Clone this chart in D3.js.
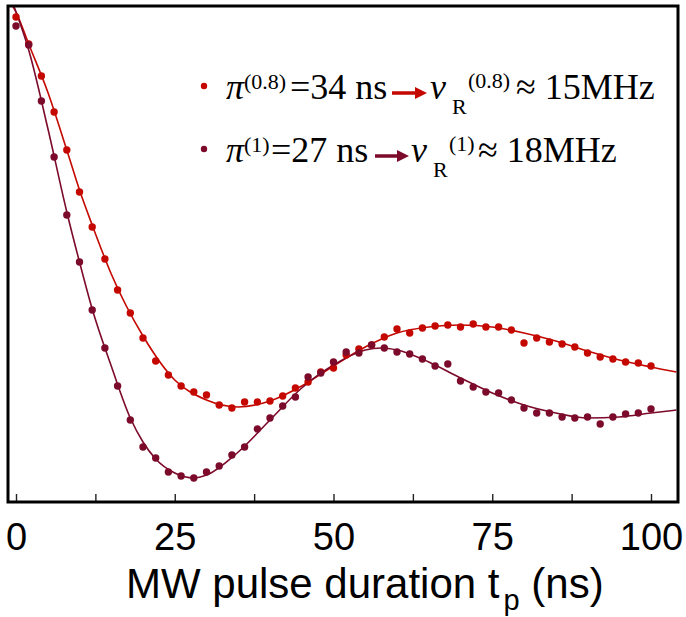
<!DOCTYPE html>
<html>
<head>
<meta charset="utf-8">
<script src="https://cdn.jsdelivr.net/npm/d3@7"></script>
<style>
  body { margin: 0; background: #fff; }
  svg { display: block; }
</style>
</head>
<body>
<svg width="686" height="617"></svg>
<script>
var pulseNs = [0,2,4,6,8,10,12,14,16,18,20,22,24,26,28,30,32,34,36,38,40,42,44,46,48,50,
               52,54,56,58,60,62,64,66,68,70,72,74,76,78,80,82,84,86,88,90,92,94,96,98,100]
var signal08 = [485,458,426,390,352,310,275,243,212,189,164,141,127,116,110,107,97,94,100,100,101,106,114,120,130,134,
                147,153,157,165,173,169,174,176,177,175,178,175,175,172,159,164,160,158,155,149,145,143,140,139,136]
var signal1 = [476,457,401,345,287,240,192,154,116,82,55,44,30,26,24,30,36,47,55,73,84,96,105,125,129,140,
               150,149,157,154,150,148,143,136,138,121,115,110,109,102,94,89,89,85,84,85,78,85,88,89,93]

// fitted curves, sampled off the figure
var fitNs08 = [-1.5,0,2,5,8,10,12,15,20,25,30,35,40,45,50,55,60,65,70,75,80,85,90,95,100,104]
var fit08 = [505,490,458,410,352,312,277,228,166,122,102,95,101,116,136,155,169,175,177,175,169,161,151,142,135,130]
var fitNs1 = [-1.5,0,2,5,8,10,12,15,18,20,22,25,28,30,35,40,45,50,55,57.5,60,65,70,75,80,85,90,95,100,104]
var fit1 = [515,490,452,374,290,240,193,136,84,60,43,29,24,27,50,82,114,137,152,154,152,140,124,109,97,89,84,85,89,92]

var tickNs = [0,12.5,25,37.5,50,62.5,75,87.5,100]

var red = "#c40800", wine = "#7c0a2b"

var svg = d3.select("svg")
var xScale = d3.scaleLinear().domain([0,100]).range([16,651])
var yScale = d3.scaleLinear().domain([0,496]).range([502,6])

svg.append("clipPath").attr("id","plotClip")
  .append("rect").attr("x",8).attr("y",6).attr("width",670).attr("height",496)

var line = d3.line()
  .x(d => xScale(d[0]))
  .y(d => yScale(d[1]))
  .curve(d3.curveMonotoneX)

var plot = svg.append("g").attr("clip-path","url(#plotClip)")

plot.append("path")
  .datum(d3.zip(fitNs08, fit08))
  .attr("d", line)
  .attr("fill","none").attr("stroke",red).attr("stroke-width",1.6)
plot.append("path")
  .datum(d3.zip(fitNs1, fit1))
  .attr("d", line)
  .attr("fill","none").attr("stroke",wine).attr("stroke-width",1.6)

plot.selectAll("circle.s08")
  .data(d3.zip(pulseNs, signal08))
  .enter().append("circle")
  .attr("class","s08")
  .attr("r",3.7)
  .attr("cx", d => xScale(d[0]))
  .attr("cy", d => yScale(d[1]))
  .attr("fill", red)
plot.selectAll("circle.s1")
  .data(d3.zip(pulseNs, signal1))
  .enter().append("circle")
  .attr("class","s1")
  .attr("r",3.7)
  .attr("cx", d => xScale(d[0]))
  .attr("cy", d => yScale(d[1]))
  .attr("fill", wine)

// x axis: inward ticks, labels every 25 ns
var xAxis = d3.axisBottom(xScale)
  .tickValues(tickNs)
  .tickSizeInner(-8).tickSizeOuter(0)
  .tickPadding(21)
  .tickFormat(d => d % 25 === 0 ? d : "")
var gx = svg.append("g").attr("transform","translate(0,502)").call(xAxis)
gx.select(".domain").remove()
gx.selectAll("line").attr("stroke","#222").attr("stroke-width",1.4)
gx.selectAll("text")
  .attr("font-family","Liberation Sans, Arial, sans-serif")
  .attr("font-size",38).attr("fill","#000")

// frame
svg.append("rect")
  .attr("x",8).attr("y",6).attr("width",670).attr("height",496)
  .attr("fill","none").attr("stroke","#000").attr("stroke-width",3)

// axis title
var title = svg.append("text")
  .attr("x",126).attr("y",598)
  .attr("font-family","Liberation Sans, Arial, sans-serif")
  .attr("font-size",42)
title.append("tspan").text("MW pulse duration t")
title.append("tspan").attr("font-size",29).attr("dy",12).attr("dx",4).text("p")
title.append("tspan").attr("dy",-12).text(" (ns)")

// legend
var serif = "Liberation Serif, Times New Roman, serif"
var legend = [
  {color: red, y: 99, sup: "(0.8)", rest: "=34 ns", supEnd: 290, arrow: [392,427], nu: 430, nuSup: "(0.8)", approx: "\u2248 15MHz", approxX: 516},
  {color: wine, y: 162, sup: "(1)", rest: "=27 ns", supEnd: 271, arrow: [375,409], nu: 411, nuSup: "(1)", approxX: 478, approx: "\u2248 18MHz"}
]
var lg = svg.selectAll("g.leg").data(legend).enter().append("g").attr("class","leg")
  .attr("font-family", serif).attr("fill","#000")
lg.append("circle").attr("cx",204).attr("cy", d => d.y - 13).attr("r",3.2).attr("fill", d => d.color)
lg.append("text").attr("x",226).attr("y", d => d.y).attr("font-size",36).attr("font-style","italic").text("\u03c0")
lg.append("text").attr("x",244).attr("y", d => d.y - 10).attr("font-size",22).text(d => d.sup)
lg.append("text").attr("x", d => d.supEnd).attr("y", d => d.y).attr("font-size",36).text(d => d.rest)
lg.append("path")
  .attr("d", d => {
    var x0 = d.arrow[0], x1 = d.arrow[1], yc = d.y - 6
    return "M"+x0+","+(yc-1.8)+"L"+(x1-12)+","+(yc-1.8)+"L"+(x1-12)+","+(yc-6)+"L"+x1+","+yc+
           "L"+(x1-12)+","+(yc+6)+"L"+(x1-12)+","+(yc+1.8)+"L"+x0+","+(yc+1.8)+"Z"
  })
  .attr("fill", d => d.color)
lg.append("text").attr("x", d => d.nu).attr("y", d => d.y).attr("font-size",36).attr("font-style","italic").text("\u03bd")
lg.append("text").attr("x", d => d.nu + 22).attr("y", d => d.y + 15).attr("font-size",22).text("R")
lg.append("text").attr("x", d => d.nu + 38).attr("y", d => d.y - 11).attr("font-size",22).text(d => d.nuSup)
lg.append("text").attr("x", d => d.approxX).attr("y", d => d.y).attr("font-size",36).text(d => d.approx)
</script>
</body>
</html>
